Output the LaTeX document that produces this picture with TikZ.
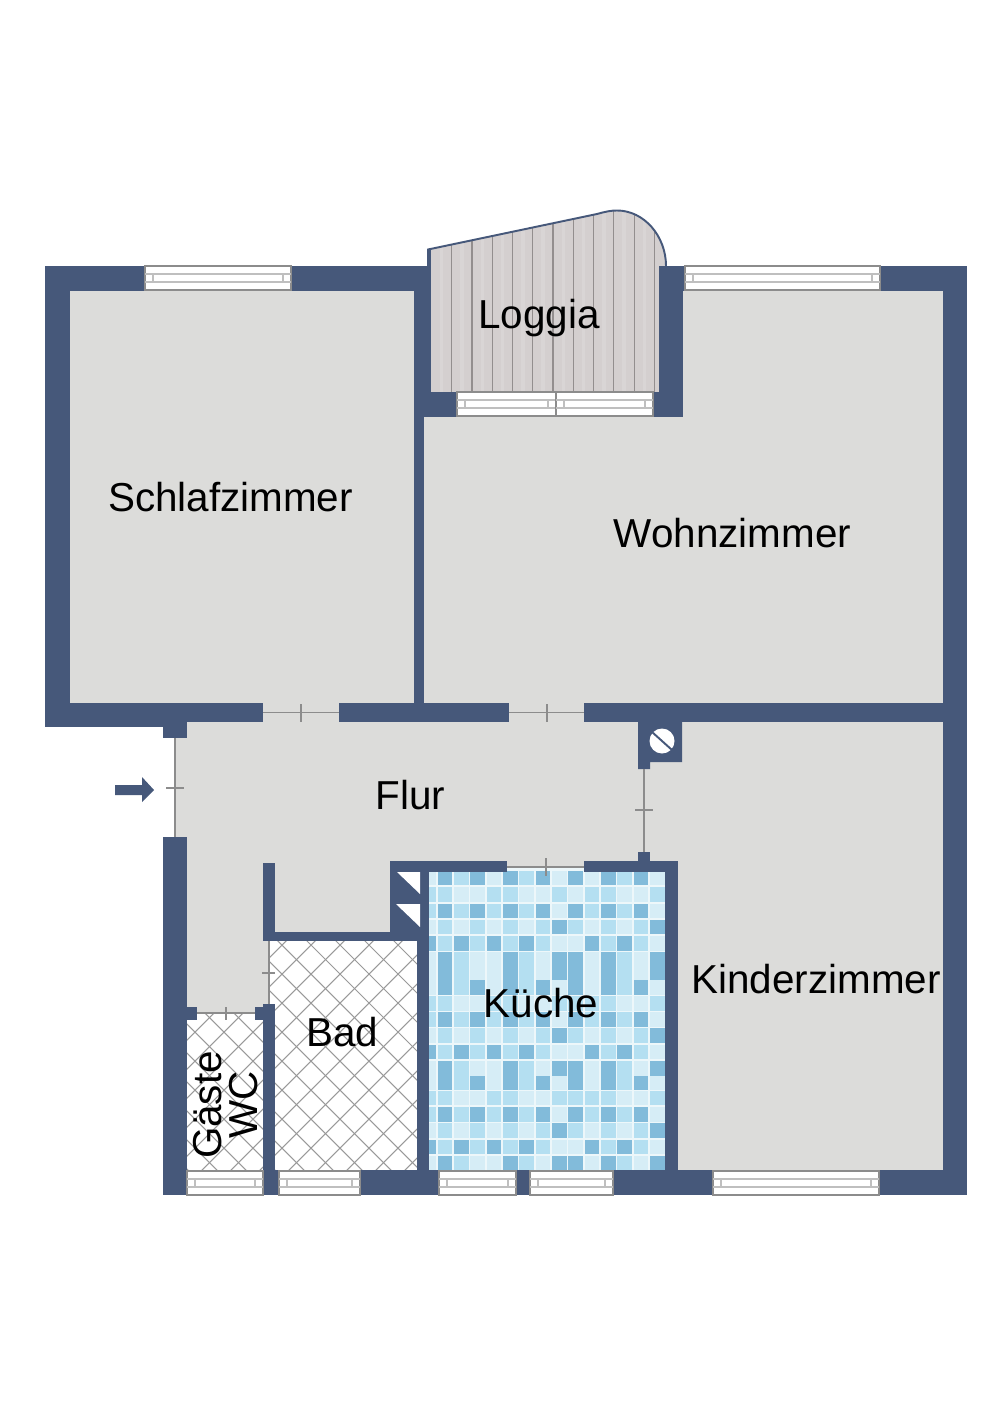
\documentclass[tikz,border=0pt]{standalone}
\usepackage{fontspec}
\setmainfont{Liberation Sans}
\definecolor{wallblue}{HTML}{46587A}
\definecolor{floorgray}{HTML}{DCDCDA}
\definecolor{plankgray}{HTML}{D4CFCF}
\definecolor{streakgray}{HTML}{D9D5D5}
\definecolor{seamgray}{HTML}{938E8E}
\definecolor{doorgray}{HTML}{8C8C8C}
\definecolor{groutblue}{HTML}{EDF7FA}
\definecolor{tilepale}{HTML}{D6EDF6}
\definecolor{tilelight}{HTML}{B4DFF1}
\definecolor{tiledark}{HTML}{82BBDA}
\tikzset{
	wall/.style={fill=wallblue},
	room/.style={fill=floorgray},
	doorline/.style={draw=doorgray, line width=0.9pt},
	tilelines/.style={draw=gray!80, line width=0.6pt},
	label/.style={font=\fontsize{23}{20.5}\selectfont, inner sep=0pt, align=center},
	tone0/.style={fill=tilepale},
	tone1/.style={fill=tilelight},
	tone2/.style={fill=tiledark}
}
\begin{document}
\begin{tikzpicture}[x=0.02cm, y=-0.02cm]
\useasboundingbox (0,0) rectangle (1000,1415);

% floors
\fill[room] (70,291) rectangle (414,703);
\fill[room] (424,417) rectangle (943,703);
\fill[room] (683,291) rectangle (943,417);
\fill[room] (175,722) rectangle (943,867);
\fill[room] (187,867) rectangle (269,1013);
\fill[room] (269,867) rectangle (390,932);
\fill[room] (678,722) rectangle (943,1170);
\fill[room] (263,700) rectangle (339,723);
\fill[room] (509,700) rectangle (584,723);

% loggia
\fill[plankgray] (428,392) -- (428,249.5) -- (597,214)
	.. controls (606,211.5) and (611,210.5) .. (617,210.5)
	.. controls (644,210.5) and (666,236) .. (666,266) -- (666,392) -- cycle;
\begin{scope}
	\clip (428,392) -- (428,249.5) -- (597,214)
		.. controls (606,211.5) and (611,210.5) .. (617,210.5)
		.. controls (644,210.5) and (666,236) .. (666,266) -- (666,392) -- cycle;
	\foreach \seam in {451.7,472,492.3,512.5,532.8,553,573.3,593.6,613.8,634.1,654.3}{
		\draw[streakgray, line width=2pt] (\seam-10,200) -- (\seam-10,392);
		\draw[seamgray, line width=0.6pt] (\seam,200) -- (\seam,392);
	}
\end{scope}
\draw[wallblue, line width=1.1pt] (428,266) -- (428,249.5) -- (597,214)
	.. controls (606,211.5) and (611,210.5) .. (617,210.5)
	.. controls (644,210.5) and (666,236) .. (666,266);

% bad and wc floor
\begin{scope}
	\clip (187,1013) rectangle (263,1170) (269,941) rectangle (417,1170);
	\foreach \d in {-1011,-982,...,-400}
		\draw[tilelines] (100,100-\d) -- (500,500-\d);
	\foreach \d in {1198,1227,...,1660}
		\draw[tilelines] (100,\d-100) -- (500,\d-500);
\end{scope}

% kitchen tiles
\fill[groutblue] (429,867) rectangle (665,1170);
\begin{scope}
	\clip (429,867) rectangle (665,1170);
	\foreach \rowtop/\tilerow in {
		871/{0,2,1,2,0,2,1,2,0,2,0,2,1,2,0},
		887.3/{1,1,0,0,1,1,0,0,1,0,1,1,0,0,1},
		903.7/{1,2,1,2,1,2,1,2,0,2,1,2,1,2,0},
		919.7/{0,1,0,1,0,1,0,1,2,1,0,1,0,1,2},
		936.3/{2,1,2,1,2,1,2,1,0,0,2,1,2,1,0},
		952.3/{0,2,1,0,0,2,1,0,2,2,0,2,1,0,2},
		966.3/{0,2,1,0,0,2,1,0,2,2,0,2,1,0,2},
		980.3/{0,2,1,2,0,2,1,2,0,2,0,2,1,2,0},
		996.3/{1,1,0,0,1,1,0,0,1,1,1,1,0,0,1},
		1012.3/{1,2,1,2,1,2,1,2,0,2,1,2,1,2,0},
		1028.3/{0,1,0,1,0,1,0,1,2,1,0,1,0,1,2},
		1045/{2,1,2,1,2,1,2,1,0,0,2,1,2,1,0},
		1061.3/{0,2,1,0,0,2,1,0,2,2,0,2,1,0,2},
		1075.7/{0,2,1,2,0,2,1,2,0,2,0,2,1,2,0},
		1091/{1,1,0,0,1,1,0,0,1,1,1,1,0,0,1},
		1107.3/{1,2,1,2,1,2,1,2,0,2,1,2,1,2,0},
		1123.3/{0,1,0,1,0,1,0,1,2,1,0,1,0,1,2},
		1140/{2,1,2,1,2,1,2,1,0,0,2,1,2,1,0},
		1156/{0,2,1,0,0,2,1,0,2,2,0,2,1,0,2}} {
		\foreach \tone [count=\c from 0] in \tilerow {
			\fill[tone\tone] ({421.3+\c*16.33},\rowtop) rectangle ({436.1+\c*16.33},{\rowtop+14.4});
		}
	}
\end{scope}

% walls
\fill[wall] (45,266) rectangle (427,291);
\fill[wall] (427,249) rectangle (431,291);
\fill[wall] (45,266) rectangle (70,727);
\fill[wall] (45,703) rectangle (187,727);
\fill[wall] (163,703) rectangle (187,738);
\fill[wall] (187,703) rectangle (263,722);
\fill[wall] (339,703) rectangle (509,722);
\fill[wall] (584,703) rectangle (967,722);
\fill[wall] (414,291) rectangle (424,703);
\fill[wall] (414,291) rectangle (431,392);
\fill[wall] (414,392) rectangle (457,417);
\fill[wall] (659,266) rectangle (683,417);
\fill[wall] (653,392) rectangle (683,417);
\fill[wall] (683,266) rectangle (967,291);
\fill[wall] (943,266) rectangle (967,1195);
\fill[wall] (638,722) -- (682,722) -- (682,762) -- (650,762) -- (650,769) -- (638,769) -- cycle;
\fill[wall] (163,837) rectangle (187,1195);
\fill[wall] (163,1170) rectangle (967,1195);
\fill[wall] (638,852) rectangle (650,861);
\fill[wall] (390,861) rectangle (507,872);
\fill[wall] (584,861) rectangle (678,872);
\fill[wall] (665,861) rectangle (678,1195);
\fill[wall] (417,861) rectangle (429,1195);
\fill[wall] (390,861) rectangle (417,941);
\fill[wall] (263,932) rectangle (417,941);
\fill[wall] (263,863) rectangle (275,941);
\fill[wall] (263,1004) rectangle (275,1195);
\fill[wall] (255,1007) rectangle (263,1020);
\fill[wall] (187,1007) rectangle (197,1020);

% shaft and chimney
\fill[white] (397,872) -- (420,872) -- (420,894) -- cycle;
\fill[white] (396,904) -- (420,904) -- (420,927) -- cycle;
\fill[white] (662,741) circle (12.5);
\draw[wallblue, line width=1.1pt] (652,732) -- (672,750);

% windows
\foreach \xa/\xb/\ya in {145/291/266,685/880/266,457/556/392,556/653/392,187/263/1171,279/360/1171,439/516/1171,530/613/1171,713/879/1171}{
	\filldraw[fill=white, draw=gray!90, line width=0.7pt] (\xa,\ya) rectangle (\xb,\ya+24);
	\draw[gray!50, line width=0.7pt] (\xa,\ya+8) -- (\xb,\ya+8) (\xa,\ya+16) -- (\xb,\ya+16);
	\draw[gray!50, line width=0.7pt] (\xa+8,\ya+8) -- (\xa+8,\ya+16) (\xb-8,\ya+8) -- (\xb-8,\ya+16);
}

% doors
\draw[doorline] (263,712.5) -- (339,712.5) (301,704) -- (301,722);
\draw[doorline] (509,712.5) -- (584,712.5) (547,704) -- (547,722);
\draw[doorline] (175,738) -- (175,837) (166,788) -- (184,788);
\draw[doorline] (644,769) -- (644,852) (635,810) -- (653,810);
\draw[doorline] (507,867) -- (584,867) (546,858) -- (546,876);
\draw[doorline] (269,941) -- (269,1004) (262,973) -- (275,973);
\draw[doorline] (197,1013) -- (255,1013) (226,1007) -- (226,1020);

% entrance arrow
\fill[wallblue] (115,785) -- (142,785) -- (142,777) -- (154,790) -- (142,802) -- (142,795) -- (115,795) -- cycle;

\node[label] (schlafzimmer) at (230.5,497) {Schlafzimmer};
\node[label] (wohnzimmer) at (732.5,533) {Wohnzimmer};
\node[label] (loggia) at (539,318) {Loggia};
\node[label] (flur) at (410.5,795) {Flur};
\node[label] (kinderzimmer) at (816,979) {Kinderzimmer};
\node[label] (kueche) at (541,1003) {Küche};
\node[label] (bad) at (342.5,1032) {Bad};
\node[label, rotate=90] (gaeste) at (226,1105) {Gäste\\WC};
\end{tikzpicture}
\end{document}
